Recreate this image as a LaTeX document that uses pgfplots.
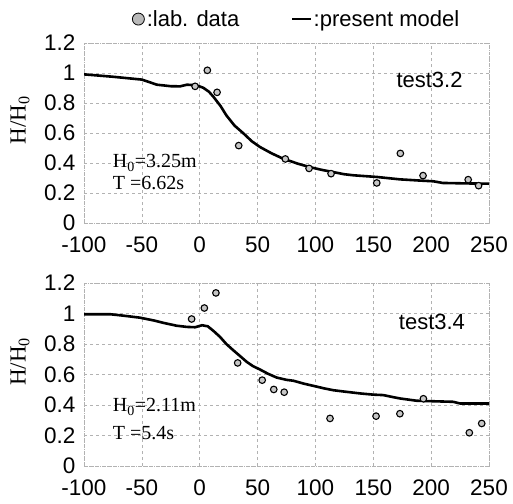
\documentclass[border=0pt]{standalone}
\usepackage{fontspec}
\setmainfont{Liberation Sans}
\newfontfamily\serif{Liberation Serif}
\usepackage{pgfplots}
\pgfplotsset{compat=1.18}
\pgfplotstableread{
x y
-4 0.911
6.6 1.018
15 0.871
33.7 0.516
74 0.427
94.5 0.364
113.5 0.329
153 0.267
173.4 0.464
193 0.316
232 0.289
241 0.249
}\labA
\pgfplotstableread{
x y
-100 0.991
-75 0.975
-50 0.956
-37 0.922
-25 0.912
-17 0.911
-11 0.922
-3 0.918
3 0.902
8 0.875
12 0.84
18 0.78
23 0.718
30 0.65
38 0.596
45 0.545
52 0.507
62 0.465
72 0.429
85 0.395
95 0.373
105 0.355
115 0.34
125 0.325
133 0.318
153 0.307
173 0.291
190 0.283
202 0.278
210 0.267
230 0.264
250 0.262
}\modA
\pgfplotstableread{
x y
-7 0.964
4 1.036
14 1.135
32.8 0.676
54 0.563
64 0.502
73 0.484
112.6 0.312
152.4 0.327
173 0.343
193.3 0.441
233 0.218
243.7 0.279
}\labB
\pgfplotstableread{
x y
-100 0.995
-77 0.995
-65 0.985
-52 0.973
-40 0.955
-31 0.938
-20 0.92
-11 0.912
-4 0.91
2 0.923
7 0.916
12 0.885
17.5 0.847
23 0.80
29 0.759
35 0.72
40.6 0.683
46 0.655
52 0.633
59 0.605
66.5 0.58
75 0.565
81 0.559
90 0.54
98 0.526
107 0.51
115.5 0.497
125 0.488
138.5 0.476
150 0.468
158.7 0.465
165 0.455
173 0.443
187.5 0.428
200 0.425
219 0.421
225 0.410
250 0.410
}\modB
\pgfplotsset{
  myaxis/.style={
    scale only axis, width=405pt,
    xmin=-100, xmax=250, ymin=0, ymax=1.2,
    xtick={-100,-50,0,50,100,150,200,250},
    ytick={0,0.2,0.4,0.6,0.8,1,1.2},
    yticklabel style={/pgf/number format/fixed,/pgf/number format/precision=1},
    /pgf/number format/assume math mode=true,
    tick label style={font=\fontsize{22.5}{26}\selectfont},
    major tick length=0pt,
    xticklabel style={yshift=-10pt},
    yticklabel style={xshift=-5pt},
    grid=major,
    grid style={dashed, gray!60, line width=0.6pt},
    axis line style={densely dotted, gray!60, line width=0.8pt},
    ylabel={\serif H/H\textsubscript{0}},
    ylabel style={font=\fontsize{23}{26}\selectfont, at={(rel axis cs:0,0.57)}, anchor=center, yshift=64pt},
  },
  labmark/.style={only marks, mark=*, mark size=3.3pt,
    mark options={fill=gray!45, draw=black, line width=1.1pt}},
  modline/.style={black, line width=2.6pt, no marks},
}
\begin{document}
\begin{tikzpicture}
\path[use as bounding box] (0,0) rectangle (513pt,-503pt);
\begin{axis}[myaxis, height=180pt, at={(84pt,-223pt)}, anchor=south west,
  legend columns=2,
  legend style={draw=none, fill=none, at={(0.525,1)}, anchor=south, yshift=11pt,
    font=\fontsize{22}{24}\selectfont,
    /tikz/every even column/.append style={column sep=50pt}},
  legend cell align=left]
\addplot[labmark, legend image code/.code={
  \draw[black, line width=0.8pt, fill=gray!55] (0.2cm,0cm) circle (6pt);}] table[x=x,y=y] {\labA};
\addlegendentry{:lab. data}
\addplot[modline, legend image code/.code={
  \draw[black, line width=1.4pt] (0cm,0cm) -- (19pt,0cm);}] table[x=x,y=y] {\modA};
\addlegendentry{:present model}
\node[anchor=center, font=\fontsize{22}{26}\selectfont] at (axis cs:198.6,0.953) {test3.2};
\node[anchor=west, font=\serif\fontsize{20}{24}\selectfont] at (axis cs:-78,0.40) {H\textsubscript{0}=3.25m};
\node[anchor=west, font=\serif\fontsize{20}{24}\selectfont] at (axis cs:-78,0.267) {T =6.62s};
\end{axis}
\begin{axis}[myaxis, height=183pt, at={(84pt,-466pt)}, anchor=south west]
\addplot[modline] table[x=x,y=y] {\modB};
\addplot[labmark] table[x=x,y=y] {\labB};
\node[anchor=center, font=\fontsize{22}{26}\selectfont] at (axis cs:200.7,0.944) {test3.4};
\node[anchor=west, font=\serif\fontsize{20}{24}\selectfont] at (axis cs:-78,0.387) {H\textsubscript{0}=2.11m};
\node[anchor=west, font=\serif\fontsize{20}{24}\selectfont] at (axis cs:-78,0.216) {T =5.4s};
\end{axis}
\end{tikzpicture}
\end{document}
